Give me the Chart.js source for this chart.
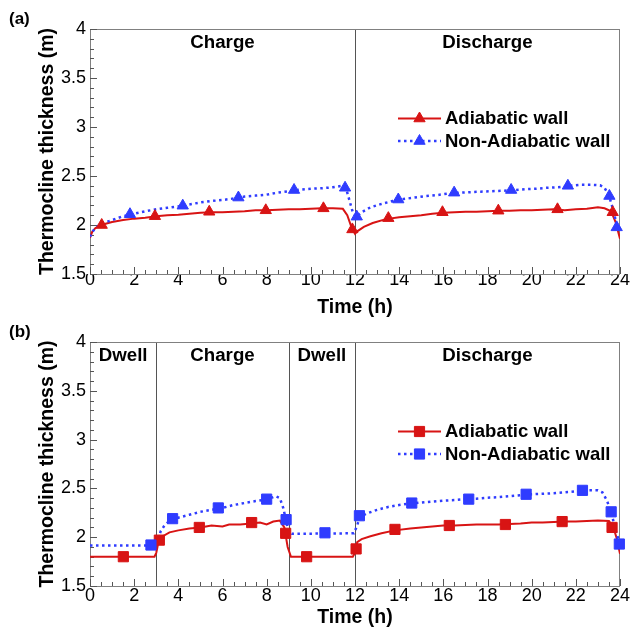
<!DOCTYPE html>
<html>
<head>
<meta charset="utf-8">
<script src="https://cdn.jsdelivr.net/npm/chart.js@4.4.1/dist/chart.umd.min.js"></script>
<style>
  body { margin: 0; background: #fff; }
  #wrap { position: relative; width: 630px; height: 627px; }
  canvas { position: absolute; left: 0; }
  #panel-a { top: 0; }
  #panel-b { top: 313px; }
</style>
</head>
<body>
<div id="wrap">
  <canvas id="panel-a" width="630" height="322"></canvas>
  <canvas id="panel-b" width="630" height="314"></canvas>
</div>
<script>
// axis ticks
const xTickValues = [0, 2, 4, 6, 8, 10, 12, 14, 16, 18, 20, 22, 24];
const yTickValues = [1.5, 2, 2.5, 3, 3.5, 4];

// operating phases
const phaseNamesA = ["Charge", "Discharge"];
const phaseEdgesA = [0, 12, 24];
const phaseNamesB = ["Dwell", "Charge", "Dwell", "Discharge"];
const phaseEdgesB = [0, 3, 9, 12, 24];

const seriesNames = ["Adiabatic wall", "Non-Adiabatic wall"];

// (a) charge / discharge
const aAdiabaticTime = [0, 0.1, 0.25, 0.5, 1, 1.5, 2, 2.5, 3, 3.5, 4, 4.5, 5, 5.5, 6, 6.5, 7, 7.5, 8, 8.5,
  9, 9.5, 10, 10.5, 11, 11.45, 11.65, 11.85, 12, 12.1, 12.4, 12.8, 13.4, 14, 14.5, 15, 15.5, 16, 16.5, 17,
  17.5, 18, 18.5, 19, 19.5, 20, 20.5, 21, 21.5, 22, 22.5, 23, 23.3, 23.6, 23.8, 24];
const aAdiabaticValue = [1.87, 1.93, 1.97, 2.0, 2.03, 2.05, 2.065, 2.075, 2.09, 2.1, 2.105, 2.115, 2.125, 2.13, 2.13, 2.135, 2.14, 2.15, 2.15, 2.155,
  2.16, 2.16, 2.165, 2.17, 2.17, 2.165, 2.1, 1.97, 1.91, 1.935, 1.98, 2.02, 2.06, 2.08, 2.09, 2.1, 2.115, 2.125, 2.13, 2.135,
  2.135, 2.14, 2.145, 2.145, 2.15, 2.15, 2.155, 2.16, 2.15, 2.16, 2.165, 2.18, 2.17, 2.14, 2.03, 1.86];
const aNonAdiabaticTime = [0, 0.1, 0.3, 0.6, 1, 1.5, 2, 2.5, 3, 3.5, 4, 4.5, 5, 5.5, 6, 6.5, 7, 7.5, 8, 8.5,
  9, 9.5, 10, 10.5, 11, 11.4, 11.6, 11.75, 11.9, 12.05, 12.3, 12.7, 13.2, 13.7, 14.2, 14.7, 15.2, 15.7, 16.2, 16.7,
  17.2, 17.7, 18.2, 18.7, 19.2, 19.7, 20.2, 20.7, 21.2, 21.7, 22.2, 22.7, 23.1, 23.3, 23.5, 23.7, 23.85, 24];
const aNonAdiabaticValue = [1.88, 1.93, 1.98, 2.02, 2.05, 2.09, 2.115, 2.14, 2.16, 2.175, 2.19, 2.21, 2.23, 2.245, 2.255, 2.27, 2.29, 2.3, 2.31, 2.33,
  2.345, 2.36, 2.37, 2.375, 2.385, 2.4, 2.37, 2.25, 2.13, 2.08, 2.13, 2.18, 2.215, 2.245, 2.265, 2.28, 2.295, 2.305, 2.32, 2.33,
  2.335, 2.34, 2.345, 2.35, 2.355, 2.365, 2.37, 2.38, 2.385, 2.4, 2.41, 2.41, 2.405, 2.38, 2.3, 2.15, 2.0, 1.93];
const aAdiabaticMarkTime = [0.53, 2.94, 5.4, 7.96, 10.57, 11.88, 13.51, 15.96, 18.49, 21.17, 23.67];
const aAdiabaticMarkValue = [2.0, 2.09, 2.135, 2.15, 2.17, 1.955, 2.07, 2.13, 2.146, 2.16, 2.13];
const aNonAdiabaticMarkTime = [1.81, 4.2, 6.72, 9.24, 11.55, 12.08, 13.96, 16.49, 19.07, 21.64, 23.52, 23.85];
const aNonAdiabaticMarkValue = [2.11, 2.197, 2.28, 2.357, 2.38, 2.085, 2.26, 2.33, 2.357, 2.4, 2.296, 1.976];

// (b) dwell / charge / dwell / discharge
const bAdiabaticTime = [0, 2.92, 3.0, 3.1, 3.3, 3.6, 4, 4.5, 5, 5.5, 6, 6.3, 6.8, 7.3, 7.7, 8, 8.3, 8.6, 8.8, 8.95,
  9.1, 11.9, 12.0, 12.1, 12.3, 12.7, 13.2, 13.8, 14.5, 15, 15.5, 16, 16.5, 17, 17.5, 18, 18.5, 19, 19.5, 20,
  20.5, 21, 21.5, 22, 22.5, 23, 23.5, 23.7, 23.85, 24];
const bAdiabaticValue = [1.8, 1.8, 1.84, 1.95, 2.01, 2.05, 2.07, 2.09, 2.1, 2.12, 2.11, 2.13, 2.13, 2.14, 2.15, 2.13, 2.16, 2.17, 2.1, 1.9,
  1.8, 1.8, 1.84, 1.95, 1.98, 2.01, 2.04, 2.07, 2.09, 2.1, 2.11, 2.12, 2.12, 2.125, 2.13, 2.13, 2.13, 2.135, 2.14, 2.15,
  2.15, 2.155, 2.16, 2.16, 2.165, 2.17, 2.165, 2.1, 1.99, 1.83];
const bNonAdiabaticTime = [0, 2.9, 3.05, 3.2, 3.4, 3.7, 4, 4.5, 5, 5.5, 6, 6.5, 7, 7.5, 8, 8.4, 8.6, 8.75, 8.9, 9.0,
  9.15, 11.95, 12.1, 12.2, 12.5, 13, 13.5, 14, 14.5, 15, 15.5, 16, 16.5, 17, 17.5, 18, 18.5, 19, 19.5, 20,
  20.5, 21, 21.5, 22, 22.5, 23, 23.2, 23.4, 23.6, 23.8, 24];
const bNonAdiabaticValue = [1.915, 1.915, 1.96, 2.06, 2.13, 2.18, 2.2, 2.23, 2.26, 2.28, 2.3, 2.33, 2.35, 2.37, 2.385, 2.42, 2.4, 2.3, 2.15, 2.05,
  2.035, 2.04, 2.12, 2.2, 2.24, 2.28, 2.31, 2.33, 2.345, 2.355, 2.365, 2.375, 2.38, 2.39, 2.395, 2.405, 2.41, 2.42, 2.43, 2.44,
  2.445, 2.45, 2.46, 2.47, 2.48, 2.48, 2.46, 2.38, 2.26, 2.07, 1.93];
const bAdiabaticMarkTime = [1.51, 3.14, 4.95, 7.32, 8.86, 9.81, 12.05, 13.81, 16.27, 18.81, 21.38, 23.64];
const bAdiabaticMarkValue = [1.8, 1.97, 2.1, 2.15, 2.04, 1.8, 1.88, 2.08, 2.12, 2.13, 2.16, 2.1];
const bNonAdiabaticMarkTime = [2.76, 3.74, 5.81, 8.0, 8.88, 10.64, 12.2, 14.57, 17.15, 19.75, 22.3, 23.6, 23.97];
const bNonAdiabaticMarkValue = [1.92, 2.19, 2.3, 2.39, 2.18, 2.045, 2.22, 2.35, 2.39, 2.44, 2.48, 2.26, 1.93];

const RED = "#d81414";
const BLUE = "#2f3cff";
const FONT = "'Liberation Sans', Arial, Helvetica, sans-serif";

Chart.defaults.font.family = FONT;
Chart.defaults.color = "#000";

function pairs(xs, ys) {
  return xs.map((x, i) => ({ x, y: ys[i] }));
}

const panelDecor = {
  id: "panelDecor",
  beforeDatasetsDraw(chart, args, opts) {
    const { ctx, chartArea: area } = chart;
    const xs = chart.scales.x;
    const ys = chart.scales.y;
    ctx.save();
    ctx.lineWidth = 1;

    // phase separators
    ctx.strokeStyle = "#555";
    opts.edges.slice(1, -1).forEach((t) => {
      const px = Math.round(xs.getPixelForValue(t)) + 0.5;
      ctx.beginPath();
      ctx.moveTo(px, area.top);
      ctx.lineTo(px, area.bottom);
      ctx.stroke();
    });

    // frame
    ctx.strokeStyle = "#808080";
    ctx.strokeRect(area.left + 0.5, area.top + 0.5, area.right - area.left - 1, area.bottom - area.top);

    // inward ticks, majors every 2 h / 0.5 m
    ctx.strokeStyle = "#555";
    ctx.beginPath();
    for (let i = 0; i <= 48; i++) {
      const px = Math.round(xs.getPixelForValue(i * 0.5)) + 0.5;
      const len = i % 4 === 0 ? 7 : 4;
      ctx.moveTo(px, area.bottom);
      ctx.lineTo(px, area.bottom - len);
    }
    for (let i = 0; i <= 25; i++) {
      const py = Math.round(ys.getPixelForValue(1.5 + i * 0.1)) + 0.5;
      const len = i % 5 === 0 ? 7 : 4;
      ctx.moveTo(area.left, py);
      ctx.lineTo(area.left + len, py);
    }
    ctx.stroke();
    ctx.restore();
  },
  afterDraw(chart, args, opts) {
    const { ctx, chartArea: area } = chart;
    const xs = chart.scales.x;
    ctx.save();

    // phase names
    ctx.font = "bold 18.7px " + FONT;
    ctx.fillStyle = "#000";
    ctx.textAlign = "center";
    ctx.textBaseline = "middle";
    opts.names.forEach((name, i) => {
      const mid = (xs.getPixelForValue(opts.edges[i]) + xs.getPixelForValue(opts.edges[i + 1])) / 2;
      ctx.fillText(name, mid, area.top + 13.5);
    });

    // panel tag
    ctx.font = "bold 17px " + FONT;
    ctx.textAlign = "left";
    ctx.fillText(opts.tag, 9, 19);

    // legend
    const rows = [
      { color: RED, dash: [], width: 2, y: 118.5 },
      { color: BLUE, dash: [2.5, 3.5], width: 2.5, y: 141 },
    ];
    rows.forEach((row, i) => {
      ctx.strokeStyle = row.color;
      ctx.lineWidth = row.width;
      ctx.setLineDash(row.dash);
      ctx.beginPath();
      ctx.moveTo(398, row.y);
      ctx.lineTo(441, row.y);
      ctx.stroke();
      ctx.setLineDash([]);
      ctx.fillStyle = row.color;
      ctx.strokeStyle = row.color;
      ctx.lineWidth = 1;
      Chart.helpers.drawPoint(ctx, {
        pointStyle: opts.marker, radius: opts.markerRadius, rotation: 0, borderWidth: 1,
      }, 419.5, row.y);
      ctx.fillStyle = "#000";
      ctx.font = "bold 18.5px " + FONT;
      ctx.textBaseline = "middle";
      ctx.fillText(seriesNames[i], 445, row.y + 0.5);
    });
    ctx.restore();
  },
};

function makePanel(id, cfg) {
  const canvas = document.getElementById(id);
  const plotBottom = cfg.plotBottom;
  return new Chart(canvas, {
    type: "line",
    data: {
      datasets: [
        {
          label: seriesNames[1] + " markers",
          data: pairs(cfg.nonMarkTime, cfg.nonMarkValue),
          showLine: false,
          pointStyle: cfg.marker,
          pointRadius: cfg.markerRadius,
          pointBackgroundColor: BLUE,
          pointBorderColor: BLUE,
          pointBorderWidth: 1,
          clip: false,
        },
        {
          label: seriesNames[0] + " markers",
          data: pairs(cfg.adiMarkTime, cfg.adiMarkValue),
          showLine: false,
          pointStyle: cfg.marker,
          pointRadius: cfg.markerRadius,
          pointBackgroundColor: RED,
          pointBorderColor: RED,
          pointBorderWidth: 1,
          clip: false,
        },
        {
          label: seriesNames[1],
          data: pairs(cfg.nonTime, cfg.nonValue),
          borderColor: BLUE,
          borderWidth: 2.5,
          borderDash: [2.5, 3.5],
          pointRadius: 0,
          tension: 0,
          fill: false,
        },
        {
          label: seriesNames[0],
          data: pairs(cfg.adiTime, cfg.adiValue),
          borderColor: RED,
          borderWidth: 2,
          pointRadius: 0,
          tension: 0,
          fill: false,
        },
      ],
    },
    options: {
      responsive: false,
      animation: false,
      devicePixelRatio: 1,
      events: [],
      layout: { padding: { top: 29, right: 10, left: 0, bottom: 0 } },
      plugins: {
        legend: { display: false },
        tooltip: { enabled: false },
        panelDecor: { names: cfg.names, edges: cfg.edges, tag: cfg.tag, marker: cfg.marker, markerRadius: cfg.markerRadius },
      },
      scales: {
        x: {
          type: "linear",
          min: 0,
          max: 24,
          grid: { display: false, drawTicks: false },
          border: { display: false },
          afterBuildTicks(scale) {
            scale.ticks = xTickValues.map((value) => ({ value }));
          },
          afterFit(scale) {
            scale.height = canvas.height - plotBottom;
            scale.paddingLeft = 0;
            scale.paddingRight = 0;
          },
          ticks: {
            autoSkip: false,
            maxRotation: 0,
            padding: cfg.xTickPad,
            font: { size: 18 },
            callback: (v) => String(v),
          },
          title: {
            display: true,
            text: "Time (h)",
            font: { size: 19.5, weight: "bold", lineHeight: 1 },
            padding: { top: 0, bottom: cfg.xTitlePad },
          },
        },
        y: {
          type: "linear",
          min: 1.5,
          max: 4,
          grid: { display: false, drawTicks: false },
          border: { display: false },
          afterBuildTicks(scale) {
            scale.ticks = yTickValues.map((value) => ({ value }));
          },
          afterFit(scale) {
            scale.width = 90;
            scale.paddingTop = 0;
            scale.paddingBottom = 0;
          },
          ticks: {
            padding: 4,
            font: { size: 18 },
            callback: (v) => String(v),
          },
          title: {
            display: true,
            text: "Thermocline thickness (m)",
            font: { size: 19.5, weight: "bold", lineHeight: 1 },
            padding: { top: 37.5, bottom: 0 },
          },
        },
      },
    },
    plugins: [panelDecor],
  });
}

makePanel("panel-a", {
  tag: "(a)",
  names: phaseNamesA,
  edges: phaseEdgesA,
  marker: "triangle",
  markerRadius: 6.5,
  plotBottom: 274,
  xTickPad: -4.8,
  xTitlePad: 4.25,
  adiTime: aAdiabaticTime, adiValue: aAdiabaticValue,
  nonTime: aNonAdiabaticTime, nonValue: aNonAdiabaticValue,
  adiMarkTime: aAdiabaticMarkTime, adiMarkValue: aAdiabaticMarkValue,
  nonMarkTime: aNonAdiabaticMarkTime, nonMarkValue: aNonAdiabaticMarkValue,
});

makePanel("panel-b", {
  tag: "(b)",
  names: phaseNamesB,
  edges: phaseEdgesB,
  marker: "rect",
  markerRadius: 7.2,
  plotBottom: 273,
  xTickPad: -0.3,
  xTitlePad: -0.75,
  adiTime: bAdiabaticTime, adiValue: bAdiabaticValue,
  nonTime: bNonAdiabaticTime, nonValue: bNonAdiabaticValue,
  adiMarkTime: bAdiabaticMarkTime, adiMarkValue: bAdiabaticMarkValue,
  nonMarkTime: bNonAdiabaticMarkTime, nonMarkValue: bNonAdiabaticMarkValue,
});
</script>
</body>
</html>
